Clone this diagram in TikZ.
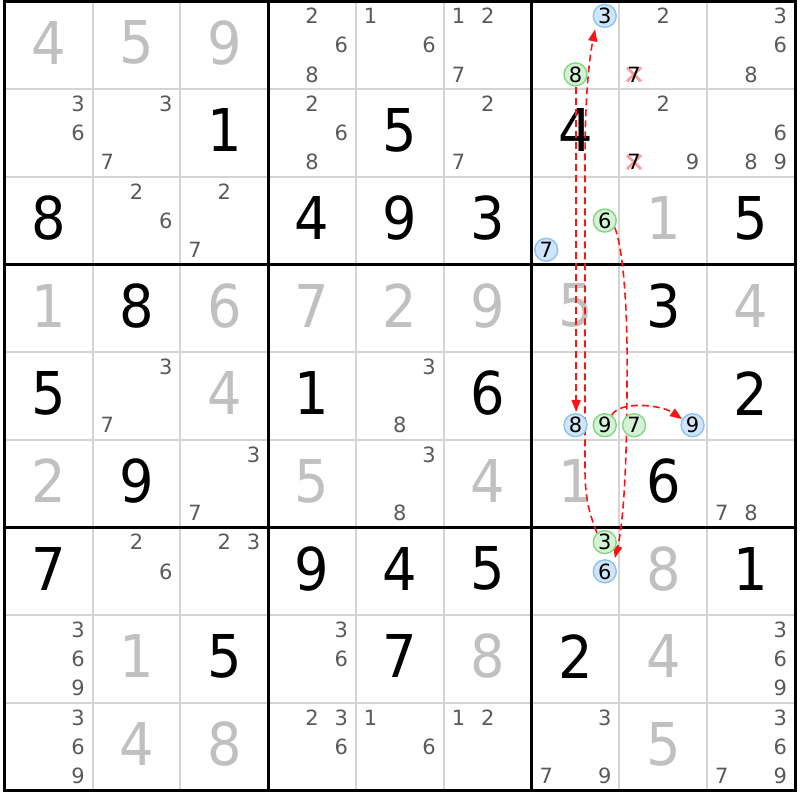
\documentclass[tikz,border=0pt]{standalone}
\usepackage{fontspec}
\usetikzlibrary{arrows.meta}
\newfontfamily\sudfont{DejaVu Sans}
\newfontfamily\sudbigfont[FakeStretch=0.92]{DejaVu Sans}
\definecolor{candgray}{RGB}{90,90,90}
\definecolor{solvedgray}{RGB}{192,192,192}
\definecolor{gridgray}{RGB}{212,212,212}
\definecolor{bluefill}{RGB}{208,228,250}
\definecolor{bluedraw}{RGB}{140,195,245}
\definecolor{greenfill}{RGB}{212,242,212}
\definecolor{greendraw}{RGB}{130,215,130}
\definecolor{xpink}{RGB}{245,160,160}
\definecolor{linkred}{RGB}{250,20,20}
\pgfdeclarelayer{background}
\pgfdeclarelayer{front}
\pgfsetlayers{background,main,front}
\def\xo{4.8}
\def\yo{1.3}
\def\cw{87.8}
\def\ch{87.7}
\newcommand\SudCand[4][]{\node[cand,#1] (n#2#3#4) at ({\xo+(#3-1)*\cw+(#4-1-3*floor((#4-0.5)/3)+0.5)*\cw/3},{\yo+(#2-1)*\ch+(floor((#4-0.5)/3)+0.5)*\ch/3}) {#4};}
\newcommand\SudBig[4]{\node[bigdigit,text=#4] (b#1#2) at ({\xo+(#2-0.5)*\cw},{\yo+(#1-0.5)*\ch-2.6}) {#3};}
\begin{document}
\begin{tikzpicture}[x=1pt,y=-1pt,
  cand/.style={font=\sudfont\fontsize{21}{21}\selectfont, text=candgray, inner sep=0pt},
  bigdigit/.style={font=\sudbigfont\fontsize{59}{59}\selectfont, inner sep=0pt},
  bluec/.style={circle, draw=bluedraw, fill=bluefill, line width=1.4pt, minimum size=23pt, inner sep=0pt, text=black},
  greenc/.style={circle, draw=greendraw, fill=greenfill, line width=1.4pt, minimum size=23pt, inner sep=0pt, text=black},
  thingrid/.style={draw=gridgray, line width=2pt},
  thickgrid/.style={draw=black, line width=3pt},
  xmark/.style={draw=xpink, line width=2.8pt},
  linkarrow/.style={draw=linkred, line width=1.6pt, dash pattern=on 7pt off 4pt, -{Triangle[length=12pt,width=9pt]}}
]
\useasboundingbox (0,0) rectangle (800,800);
\begin{pgfonlayer}{background}
\fill[white] (0,0) rectangle (800,800);
\foreach \i in {1,2,4,5,7,8} {
  \draw[thingrid] ({\xo+\i*\cw},\yo) -- ({\xo+\i*\cw},{\yo+9*\ch});
  \draw[thingrid] (\xo,{\yo+\i*\ch}) -- ({\xo+9*\cw},{\yo+\i*\ch});
}
\foreach \i in {3,6} {
  \draw[thickgrid] ({\xo+\i*\cw},\yo) -- ({\xo+\i*\cw},{\yo+9*\ch});
  \draw[thickgrid] (\xo,{\yo+\i*\ch}) -- ({\xo+9*\cw},{\yo+\i*\ch});
}
\draw[thickgrid] (\xo,\yo) rectangle ({\xo+9*\cw},{\yo+9*\ch});
\end{pgfonlayer}
% row 1
\SudBig{1}{1}{4}{solvedgray} \SudBig{1}{2}{5}{solvedgray} \SudBig{1}{3}{9}{solvedgray}
\SudCand{1}{4}{2} \SudCand{1}{4}{6} \SudCand{1}{4}{8}
\SudCand{1}{5}{1} \SudCand{1}{5}{6}
\SudCand{1}{6}{1} \SudCand{1}{6}{2} \SudCand{1}{6}{7}
\SudCand{1}{8}{2} \SudCand[text=black]{1}{8}{7}
\SudCand{1}{9}{3} \SudCand{1}{9}{6} \SudCand{1}{9}{8}
% row 2
\SudCand{2}{1}{3} \SudCand{2}{1}{6}
\SudCand{2}{2}{3} \SudCand{2}{2}{7}
\SudBig{2}{3}{1}{black}
\SudCand{2}{4}{2} \SudCand{2}{4}{6} \SudCand{2}{4}{8}
\SudBig{2}{5}{5}{black}
\SudCand{2}{6}{2} \SudCand{2}{6}{7}
\SudBig{2}{7}{4}{black}
\SudCand{2}{8}{2} \SudCand[text=black]{2}{8}{7} \SudCand{2}{8}{9}
\SudCand{2}{9}{6} \SudCand{2}{9}{8} \SudCand{2}{9}{9}
% row 3
\SudBig{3}{1}{8}{black}
\SudCand{3}{2}{2} \SudCand{3}{2}{6}
\SudCand{3}{3}{2} \SudCand{3}{3}{7}
\SudBig{3}{4}{4}{black} \SudBig{3}{5}{9}{black} \SudBig{3}{6}{3}{black}
\SudBig{3}{8}{1}{solvedgray} \SudBig{3}{9}{5}{black}
% row 4
\SudBig{4}{1}{1}{solvedgray} \SudBig{4}{2}{8}{black} \SudBig{4}{3}{6}{solvedgray}
\SudBig{4}{4}{7}{solvedgray} \SudBig{4}{5}{2}{solvedgray} \SudBig{4}{6}{9}{solvedgray}
\SudBig{4}{7}{5}{solvedgray} \SudBig{4}{8}{3}{black} \SudBig{4}{9}{4}{solvedgray}
% row 5
\SudBig{5}{1}{5}{black}
\SudCand{5}{2}{3} \SudCand{5}{2}{7}
\SudBig{5}{3}{4}{solvedgray} \SudBig{5}{4}{1}{black}
\SudCand{5}{5}{3} \SudCand{5}{5}{8}
\SudBig{5}{6}{6}{black} \SudBig{5}{9}{2}{black}
% row 6
\SudBig{6}{1}{2}{solvedgray} \SudBig{6}{2}{9}{black}
\SudCand{6}{3}{3} \SudCand{6}{3}{7}
\SudBig{6}{4}{5}{solvedgray}
\SudCand{6}{5}{3} \SudCand{6}{5}{8}
\SudBig{6}{6}{4}{solvedgray} \SudBig{6}{7}{1}{solvedgray} \SudBig{6}{8}{6}{black}
\SudCand{6}{9}{7} \SudCand{6}{9}{8}
% row 7
\SudBig{7}{1}{7}{black}
\SudCand{7}{2}{2} \SudCand{7}{2}{6}
\SudCand{7}{3}{2} \SudCand{7}{3}{3}
\SudBig{7}{4}{9}{black} \SudBig{7}{5}{4}{black} \SudBig{7}{6}{5}{black}
\SudBig{7}{8}{8}{solvedgray} \SudBig{7}{9}{1}{black}
% row 8
\SudCand{8}{1}{3} \SudCand{8}{1}{6} \SudCand{8}{1}{9}
\SudBig{8}{2}{1}{solvedgray} \SudBig{8}{3}{5}{black}
\SudCand{8}{4}{3} \SudCand{8}{4}{6}
\SudBig{8}{5}{7}{black} \SudBig{8}{6}{8}{solvedgray} \SudBig{8}{7}{2}{black} \SudBig{8}{8}{4}{solvedgray}
\SudCand{8}{9}{3} \SudCand{8}{9}{6} \SudCand{8}{9}{9}
% row 9
\SudCand{9}{1}{3} \SudCand{9}{1}{6} \SudCand{9}{1}{9}
\SudBig{9}{2}{4}{solvedgray} \SudBig{9}{3}{8}{solvedgray}
\SudCand{9}{4}{2} \SudCand{9}{4}{3} \SudCand{9}{4}{6}
\SudCand{9}{5}{1} \SudCand{9}{5}{6}
\SudCand{9}{6}{1} \SudCand{9}{6}{2}
\SudCand{9}{7}{3} \SudCand{9}{7}{7} \SudCand{9}{7}{9}
\SudBig{9}{8}{5}{solvedgray}
\SudCand{9}{9}{3} \SudCand{9}{9}{6} \SudCand{9}{9}{7} \SudCand{9}{9}{9}
% crossed candidates
\begin{pgfonlayer}{background}
\foreach \n in {n187,n287} {
  \draw[xmark] ([shift={(-7,-7)}]\n.center) -- ([shift={(7,7)}]\n.center);
  \draw[xmark] ([shift={(-7,7)}]\n.center) -- ([shift={(7,-7)}]\n.center);
}
\end{pgfonlayer}
% highlighted candidates
\begin{pgfonlayer}{front}
\SudCand[bluec]{1}{7}{3}
\SudCand[greenc]{1}{7}{8}
\SudCand[greenc]{3}{7}{6}
\SudCand[bluec]{3}{7}{7}
\SudCand[bluec]{5}{7}{8}
\SudCand[greenc]{5}{7}{9}
\SudCand[greenc]{5}{8}{7}
\SudCand[bluec]{5}{8}{9}
\SudCand[greenc]{7}{7}{3}
\SudCand[bluec]{7}{7}{6}
\end{pgfonlayer}
% links
\draw[linkarrow, shorten >=1pt] ([xshift=0.6pt]n178.south) -- ([xshift=0.6pt]n578.north);
\draw[linkarrow] (n579.55) .. controls +(8,-15) and +(-20,-14) .. (n589.150);
\draw[linkarrow, shorten >=5pt] (n773.130) .. controls (590,515) and (585,500) .. (585,470) -- (585,160) .. controls (585,90) and (590,55) .. (n173.224);
\draw[linkarrow, shorten >=5pt] (n376.-35) .. controls (622,245) and (628,300) .. (627,380) .. controls (627,470) and (623,525) .. (n776.43);
\end{tikzpicture}
\end{document}
